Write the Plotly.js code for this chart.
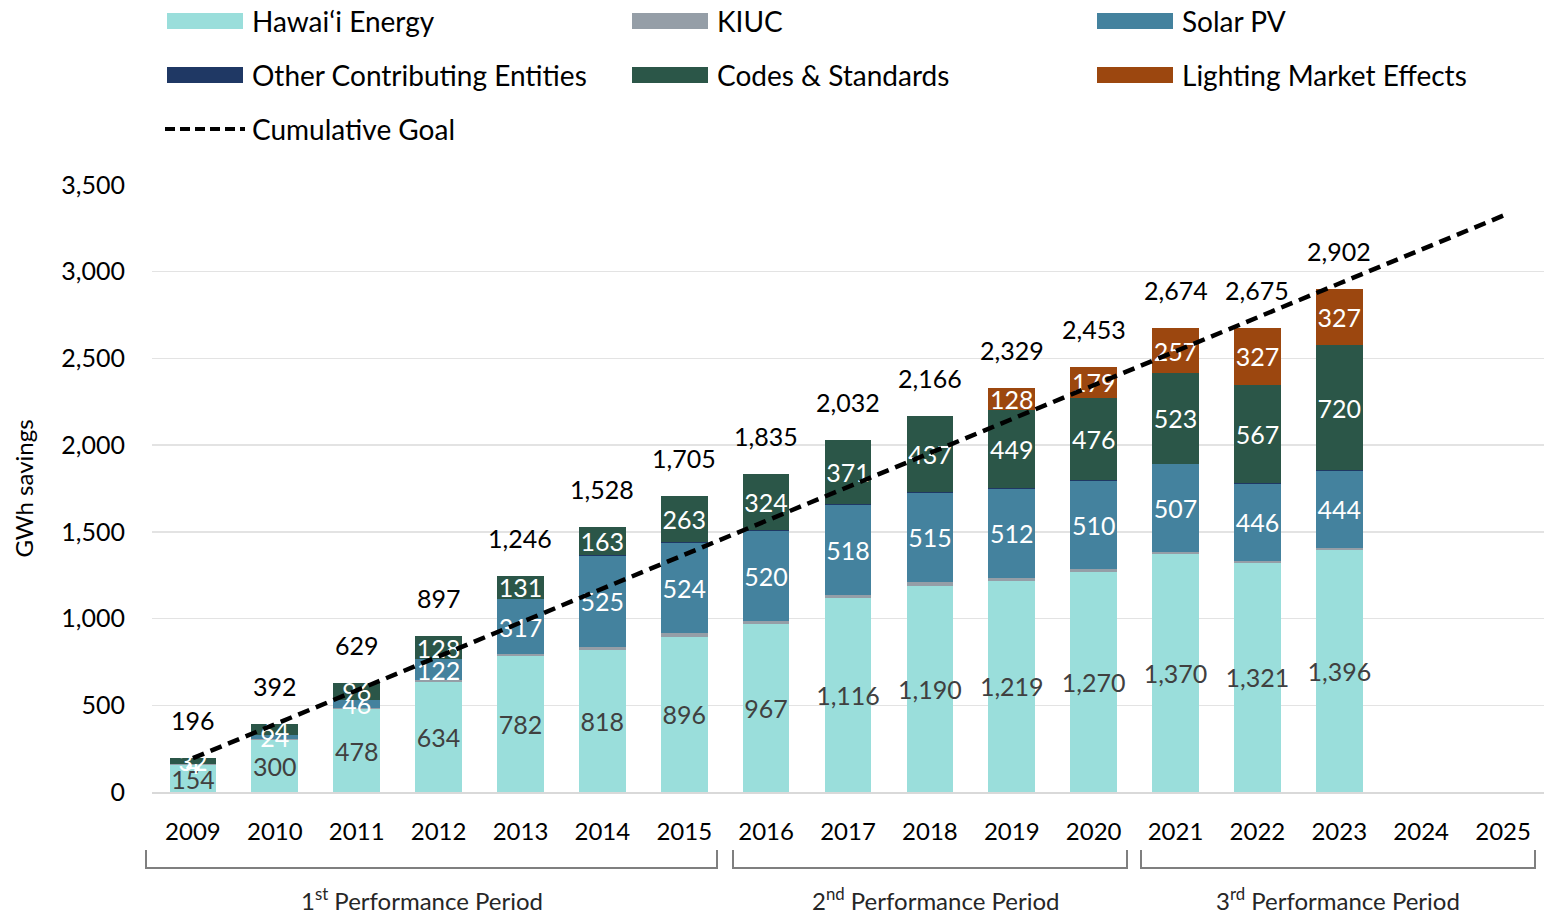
<!DOCTYPE html>
<html>
<head>
<meta charset="utf-8">
<script src="https://cdn.plot.ly/plotly-3.0.1.min.js"></script>
<style>html,body{margin:0;padding:0;background:#fff;}#chart{width:1547px;height:916px;}</style>
</head>
<body>
<div id="chart"></div>
<script>
// ---- data ----
const years = ['2009','2010','2011','2012','2013','2014','2015','2016','2017','2018','2019','2020','2021','2022','2023','2024','2025'];
const hawaiiEnergy = [154,300,478,634,782,818,896,967,1116,1190,1219,1270,1370,1321,1396,null,null];
const kiuc = [6,3,7,11,13,18,18,19,22,20,17,14,13,10,11,null,null];
const solarPV = [4,24,46,122,317,525,524,520,518,515,512,510,507,446,444,null,null];
const otherEntities = [0,1,2,2,3,4,4,5,5,4,4,4,4,4,4,null,null];
const codesStandards = [32,64,96,128,131,163,263,324,371,437,449,476,523,567,720,null,null];
const lightingMarket = [null,null,null,null,null,null,null,null,null,null,128,179,257,327,327,null,null];
const totals = [196,392,629,897,1246,1528,1705,1835,2032,2166,2329,2453,2674,2675,2902,null,null];
const cumulativeGoal = [195,391,586,782,977,1173,1368,1564,1759,1955,2150,2345,2541,2736,2932,3127,3323];
const yTicks = [0,500,1000,1500,2000,2500,3000,3500];
const periods = [
  {label:'1<sup>st</sup> Performance Period'},
  {label:'2<sup>nd</sup> Performance Period'},
  {label:'3<sup>rd</sup> Performance Period'}
];

// ---- styling ----
const FONT = 'Lato, "Open Sans", sans-serif';
const colors = {
  he:'#9adedb', kiuc:'#959ea7', solar:'#44829e', other:'#1f3864', codes:'#2b5648', light:'#9c470f'
};
const W = 1547, H = 916, L = 152, R = 3, T = 185, B = 124;
const pw = W - L - R, ph = H - T - B;
const px = x => (x - L) / pw;
const py = y => (H - B - y) / ph;

function barTrace(name, vals, color, labelColor, showText) {
  const t = {
    type:'bar', name:name, x:years, y:vals,
    marker:{color:color, line:{width:0}},
    hoverinfo:'name+y',
    showlegend:false
  };
  if (showText) {
    Object.assign(t, {
      texttemplate:'%{y:,}',
      textposition:'inside',
      insidetextanchor:'middle',
      textangle:0,
      constraintext:'none',
      textfont:{family:FONT, size:25, color:labelColor}
    });
  } else {
    t.textposition = 'none';
  }
  return t;
}

const traces = [
  barTrace('Hawai‘i Energy', hawaiiEnergy, colors.he, '#404040', true),
  barTrace('KIUC', kiuc, colors.kiuc, '#fff', false),
  barTrace('Solar PV', solarPV, colors.solar, '#fff', true),
  barTrace('Other Contributing Entities', otherEntities, colors.other, '#fff', false),
  barTrace('Codes & Standards', codesStandards, colors.codes, '#fff', true),
  barTrace('Lighting Market Effects', lightingMarket, colors.light, '#fff', true),
  {
    type:'scatter', mode:'lines', name:'Cumulative Goal', x:years, y:cumulativeGoal,
    line:{color:'#000', width:4.5, dash:'12px,7px'}, showlegend:false
  }
];

const annotations = [];
years.forEach((yr, i) => {
  if (totals[i] != null) {
    annotations.push({
      x:i, y:totals[i], xref:'x', yref:'y', text:totals[i].toLocaleString('en-US'),
      showarrow:false, yanchor:'bottom', yshift:21,
      font:{family:FONT, size:25, color:'#000'}
    });
  }
});

// custom legend
const legendItems = [
  {name:traces[0].name, color:colors.he, col:0, row:0},
  {name:traces[1].name, color:colors.kiuc, col:1, row:0},
  {name:traces[2].name, color:colors.solar, col:2, row:0},
  {name:traces[3].name, color:colors.other, col:0, row:1},
  {name:traces[4].name, color:colors.codes, col:1, row:1},
  {name:traces[5].name, color:colors.light, col:2, row:1},
  {name:traces[6].name, color:null, col:0, row:2}
];
const colX = [167, 632, 1097];
const rowY = [21, 75, 129];
const shapes = [];
legendItems.forEach(it => {
  const x0 = colX[it.col], cy = rowY[it.row];
  if (it.color) {
    shapes.push({type:'rect', xref:'paper', yref:'paper', x0:px(x0), x1:px(x0+76), y0:py(cy+8), y1:py(cy-8),
      fillcolor:it.color, line:{width:0}});
  } else {
    shapes.push({type:'line', xref:'paper', yref:'paper', x0:px(x0-2), x1:px(x0+78), y0:py(cy), y1:py(cy),
      line:{color:'#000', width:4, dash:'10px,5px'}});
  }
  annotations.push({xref:'paper', yref:'paper', x:px(x0+83), y:py(cy), xanchor:'left', yanchor:'middle',
    text:it.name, showarrow:false, font:{family:FONT, size:28, color:'#000'}});
});

// period brackets
const brackets = [[146,717,422],[733,1127,936],[1141,1535,1338]];
brackets.forEach((b, i) => {
  const xa = px(b[0]), xb = px(b[1]), yt = py(850), yb = py(868);
  shapes.push({type:'path', xref:'paper', yref:'paper',
    path:`M${xa},${yt} L${xa},${yb} L${xb},${yb} L${xb},${yt}`,
    line:{color:'#7f7f7f', width:2}});
  annotations.push({xref:'paper', yref:'paper', x:px(b[2]), y:py(899), xanchor:'center', yanchor:'middle',
    text:periods[i].label, showarrow:false, font:{family:FONT, size:24, color:'#262626'}});
});

const layout = {
  width:W, height:H,
  margin:{l:L, r:R, t:T, b:B, pad:0},
  barmode:'stack', bargap:0.43,
  paper_bgcolor:'#fff', plot_bgcolor:'#fff',
  showlegend:false,
  font:{family:FONT, size:24, color:'#000'},
  xaxis:{
    type:'category', categoryorder:'array', categoryarray:years, range:[-0.5, 16.5],
    showgrid:false, zeroline:false, showline:true, linecolor:'#d9d9d9', linewidth:2,
    ticks:'outside', ticklen:17, tickcolor:'rgba(0,0,0,0)',
    tickfont:{family:FONT, size:24, color:'#000'}, fixedrange:true
  },
  yaxis:{
    range:[0,3500], tickvals:yTicks, ticktext:yTicks.map(v => v.toLocaleString('en-US')),
    showgrid:true, gridcolor:'#e3e3e3', gridwidth:1.5, zeroline:false, showline:false,
    ticks:'outside', ticklen:21, tickcolor:'rgba(0,0,0,0)',
    tickfont:{family:FONT, size:25, color:'#000'},
    title:{text:'GWh savings', font:{family:FONT, size:24, color:'#000'}, standoff:20},
    fixedrange:true
  },
  shapes:shapes,
  annotations:annotations
};

Plotly.newPlot('chart', traces, layout, {displayModeBar:false, staticPlot:true});
</script>
</body>
</html>
